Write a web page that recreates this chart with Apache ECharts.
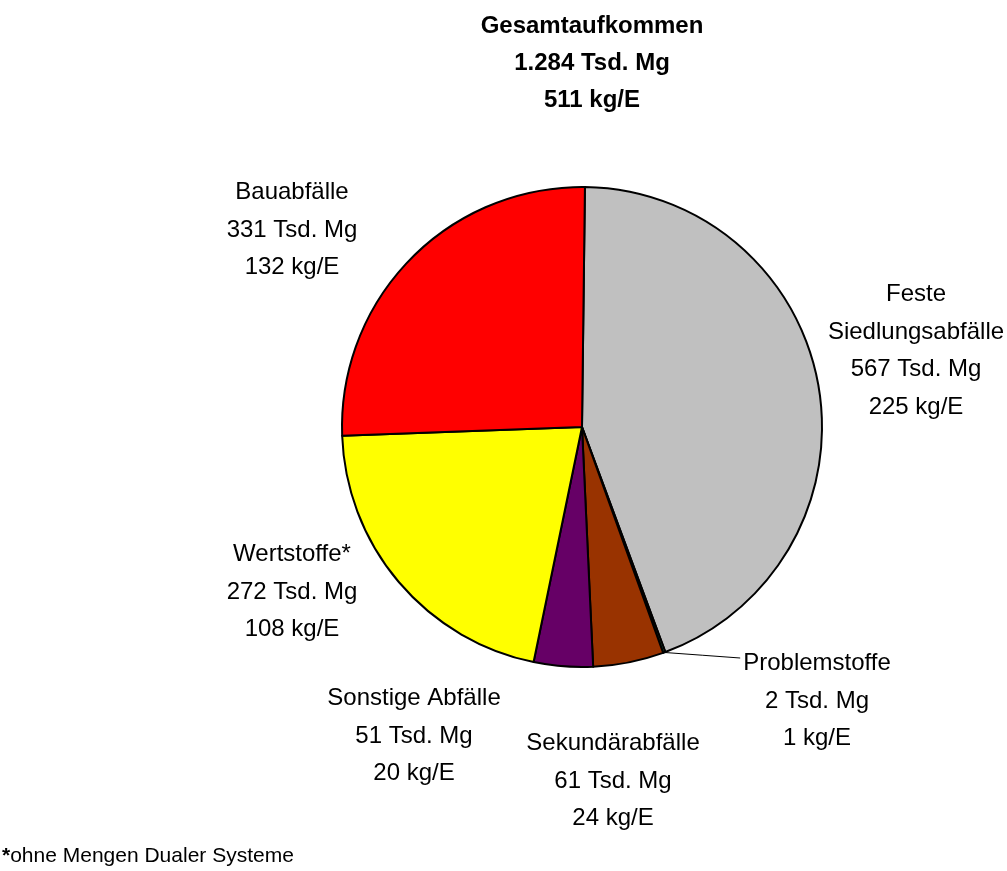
<!DOCTYPE html>
<html>
<head>
<meta charset="utf-8">
<title>Abfallaufkommen</title>
<script src="https://cdn.jsdelivr.net/npm/echarts@6/dist/echarts.min.js"></script>
<style>
    html, body { margin: 0; padding: 0; background: #ffffff; }
    #chart { width: 1007px; height: 871px; }
</style>
</head>
<body>
<div id="chart"></div>
<script>
// Daten aus der Grafik (Tsd. Mg und kg je Einwohner)
const categories = [
    "Feste\nSiedlungsabfälle",
    "Problemstoffe",
    "Sekundärabfälle",
    "Sonstige Abfälle",
    "Wertstoffe*",
    "Bauabfälle",
];
const mengen = [567, 2, 61, 51, 272, 331];
const proKopf = [225, 1, 24, 20, 108, 132];
const farben = ["#c0c0c0", "#339966", "#993300", "#660066", "#ffff00", "#ff0000"];
const gesamt = { menge: "1.284", proKopf: 511 };

// Label-Positionen (Mitte x, Oberkante y des Textblocks)
const labelPos = [
    { x: 916, y: 276 },
    { x: 817, y: 645 },
    { x: 613, y: 725 },
    { x: 414, y: 680 },
    { x: 292, y: 536 },
    { x: 292, y: 174 },
];

const CENTER = [582, 427];
const RADIUS = 240;
const START = 89.3;

// schmale Schrift vorhanden? sonst normale Liberation Sans
function hasFont(name) {
    const c = document.createElement("canvas").getContext("2d");
    const s = "Siedlungsabfälle Mg";
    c.font = "40px monospace";
    const a = c.measureText(s).width;
    c.font = "40px '" + name + "', monospace";
    return Math.abs(c.measureText(s).width - a) > 0.5;
}
const narrow = hasFont("Liberation Sans Narrow");
const FONT = narrow
    ? "'Liberation Sans Narrow', sans-serif"
    : "'Liberation Sans', Arial, sans-serif";
const scale = narrow ? 1.16 : 1;

const chart = echarts.init(document.getElementById("chart"), null, { renderer: "canvas" });

const total = mengen.reduce((a, b) => a + b, 0);

const pieData = categories.map((name, i) => ({
    name: name,
    value: mengen[i],
    itemStyle: { color: farben[i] },
    labelLine: { show: i === 1 },
}));

const option = {
    backgroundColor: "#ffffff",
    animation: false,
    title: {
        text: "Gesamtaufkommen\n" + gesamt.menge + " Tsd. Mg\n" + gesamt.proKopf + " kg/E",
        left: 587,
        top: 3,
        textAlign: "center",
        textStyle: {
            fontFamily: FONT,
            fontWeight: "bold",
            fontSize: Math.round(24 * scale),
            lineHeight: 37,
            color: "#000",
        },
    },
    graphic: [
        {
            type: "text",
            left: 2,
            top: 846,
            style: {
                text: "{b|*}ohne Mengen Dualer Systeme",
                rich: {
                    b: { fontFamily: FONT, fontSize: Math.round(21 * scale), fontWeight: "bold", fill: "#000" },
                },
                font: Math.round(21 * scale) + "px " + FONT,
                fill: "#000",
            },
        },
    ],
    series: [
        {
            type: "pie",
            center: CENTER,
            radius: [0, RADIUS],
            startAngle: START,
            clockwise: true,
            avoidLabelOverlap: false,
            data: pieData,
            itemStyle: {
                borderColor: "#000",
                borderWidth: 2,
            },
            label: {
                show: true,
                position: "outside",
                fontFamily: FONT,
                fontSize: Math.round(24 * scale),
                lineHeight: 37.5,
                color: "#000",
                align: "center",
                formatter: (p) =>
                    p.name + "\n" + mengen[p.dataIndex] + " Tsd. Mg\n" + proKopf[p.dataIndex] + " kg/E",
            },
            labelLine: {
                show: false,
                lineStyle: { color: "#000", width: 1 },
            },
            labelLayout: (params) => {
                const i = params.dataIndex;
                const pos = labelPos[i];
                const res = {
                    x: pos.x,
                    y: pos.y,
                    align: "center",
                    verticalAlign: "top",
                };
                if (i === 1) {
                    // gerade Hinweislinie vom Segmentrand zum Text
                    let before = 0;
                    for (let k = 0; k < i; k++) before += mengen[k];
                    const mid = ((before + mengen[i] / 2) / total) * 360 + (90 - START);
                    const rad = (mid * Math.PI) / 180;
                    const x0 = CENTER[0] + RADIUS * Math.sin(rad);
                    const y0 = CENTER[1] - RADIUS * Math.cos(rad);
                    const x1 = pos.x - params.labelRect.width / 2 - 3;
                    const y1 = pos.y + 13;
                    res.labelLinePoints = [[x0, y0], [(x0 + x1) / 2, (y0 + y1) / 2], [x1, y1]];
                }
                return res;
            },
            emphasis: { disabled: true },
        },
    ],
};

chart.setOption(option);
</script>
</body>
</html>
